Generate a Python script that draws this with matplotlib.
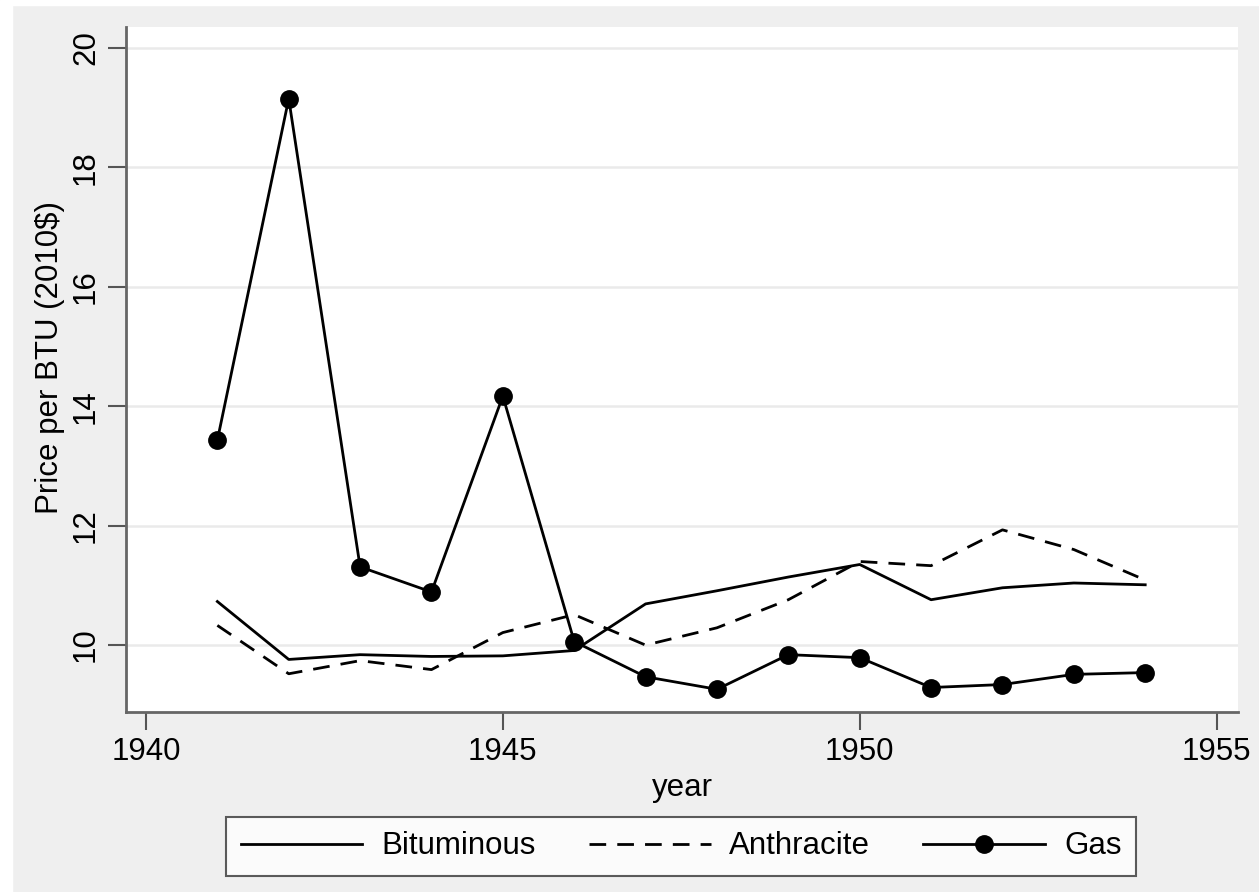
import matplotlib
matplotlib.use("Agg")
import matplotlib.pyplot as plt
from matplotlib.patches import Rectangle
from matplotlib.lines import Line2D

plt.rcParams['font.family'] = ['Liberation Sans', 'DejaVu Sans']

years = [1941, 1942, 1943, 1944, 1945, 1946, 1947, 1948, 1949, 1950, 1951, 1952, 1953, 1954]
bituminous = [10.73, 9.76, 9.84, 9.81, 9.82, 9.91, 10.69, 10.91, 11.14, 11.35, 10.76, 10.96, 11.04, 11.01]
anthracite = [10.33, 9.52, 9.74, 9.59, 10.21, 10.51, 10.00, 10.29, 10.76, 11.40, 11.33, 11.93, 11.60, 11.09]
gas = [13.43, 19.15, 11.31, 10.89, 14.17, 10.06, 9.47, 9.26, 9.84, 9.79, 9.29, 9.34, 9.51, 9.54]

x_ticks = [1940, 1945, 1950, 1955]
y_ticks = [10, 12, 14, 16, 18, 20]
series_labels = ["Bituminous", "Anthracite", "Gas"]

W, H = 1259, 892
FS = 22.5
LW = 2.0
DASH = (6, 4)
MS = 12.5

fig = plt.figure(figsize=(W / 100, H / 100), dpi=100)
fig.patch.set_facecolor('#efefef')
# white margins at left and top
fig.add_artist(Rectangle((0, 0), 12 / W, 1, transform=fig.transFigure, color='white', zorder=0))
fig.add_artist(Rectangle((0, 1 - 5 / H), 1, 5 / H, transform=fig.transFigure, color='white', zorder=0))

ax = fig.add_axes([126 / W, 1 - 712 / H, (1238 - 126) / W, (712 - 27) / H])
ax.set_facecolor('white')

ax.plot(years, bituminous, color='black', lw=LW)
ax.plot(years, anthracite, color='black', lw=LW, dashes=DASH)
ax.plot(years, gas, color='black', lw=LW, marker='o', markersize=MS)

ax.set_xlim(1939.72, 1955.30)
ax.set_ylim(8.88, 20.35)
ax.set_xticks(x_ticks)
ax.set_yticks(y_ticks)
ax.set_yticklabels([str(v) for v in y_ticks], rotation=90, va='center')
ax.tick_params(axis='both', labelsize=FS, length=13, width=1.5, color='#555555', direction='out')
ax.tick_params(axis='y', pad=5)
ax.tick_params(axis='x', pad=5)
ax.grid(axis='y', color='#eaeaea', lw=1.8)
ax.set_axisbelow(True)
for s in ['top', 'right']:
    ax.spines[s].set_visible(False)
for s in ['left', 'bottom']:
    ax.spines[s].set_color('#666666')
    ax.spines[s].set_linewidth(2)

ax.set_xlabel('year', fontsize=FS, labelpad=4)
ax.set_ylabel('Price per BTU (2010$)', fontsize=FS)
ax.yaxis.set_label_coords(-0.055, 0.518)

handles = [
    Line2D([], [], color='black', lw=LW),
    Line2D([], [], color='black', lw=LW, dashes=DASH),
    Line2D([], [], color='black', lw=LW, marker='o', markersize=MS),
]
leg = fig.legend(handles, series_labels, loc='center', ncol=3,
                 bbox_to_anchor=(681 / W, 1 - 846.5 / H), fontsize=FS,
                 frameon=True, fancybox=False, edgecolor='#333333',
                 handlelength=3.9, columnspacing=1.7, handletextpad=0.6,
                 borderpad=0.45, borderaxespad=0)
leg.get_frame().set_linewidth(1.5)

fig.savefig('out.png', dpi=100, facecolor=fig.get_facecolor())
